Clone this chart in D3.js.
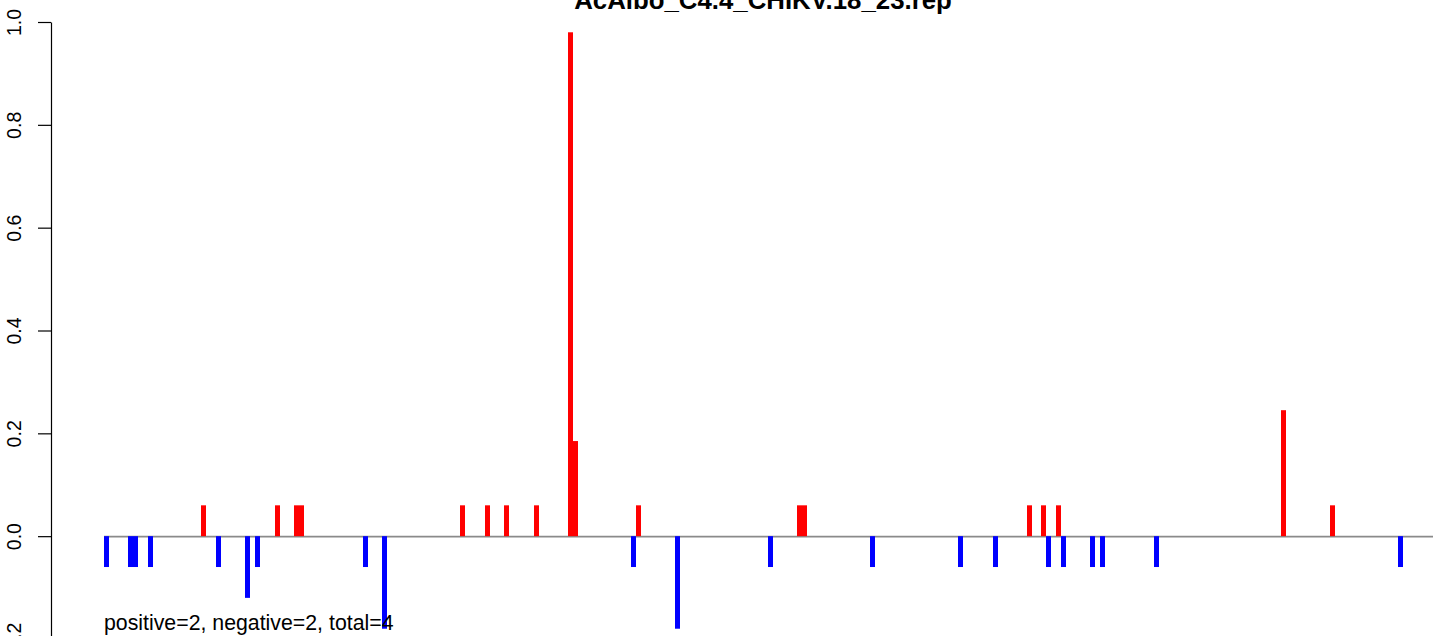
<!DOCTYPE html>
<html>
<head>
<meta charset="utf-8">
<script src="https://cdn.jsdelivr.net/npm/d3@7"></script>
<style>
  html, body { margin: 0; padding: 0; background: #fff; }
  svg { display: block; font-family: "Liberation Sans", Arial, Helvetica, sans-serif; }
</style>
</head>
<body>
<div id="chart"></div>
<script>
// ---- data ----
const chartTitle = "AcAlbo_C4.4_CHIKV.18_23.rep";
const summaryText = "positive=2, negative=2, total=4";

const positivePositions = [19.4, 34.2, 38, 39, 71.2, 76.2, 80, 86, 92.8, 93.8, 106.4, 138.6, 139.6, 184.6, 187.4, 190.4, 235.4, 245.2];
const positiveValues    = [0.06, 0.06, 0.06, 0.06, 0.06, 0.06, 0.06, 0.06, 0.98, 0.185, 0.06, 0.06, 0.06, 0.06, 0.06, 0.06, 0.245, 0.06];

const negativePositions = [0, 4.8, 5.8, 8.8, 22.4, 28.2, 30.2, 51.8, 55.6, 105.4, 114.2, 132.8, 153.2, 170.8, 177.8, 188.4, 191.4, 197.2, 199.2, 210, 258.8];
const negativeValues    = [-0.06, -0.06, -0.06, -0.06, -0.06, -0.12, -0.06, -0.06, -0.18, -0.06, -0.18, -0.06, -0.06, -0.06, -0.06, -0.06, -0.06, -0.06, -0.06, -0.06, -0.06];

const yTickValues = [-0.2, 0.0, 0.2, 0.4, 0.6, 0.8, 1.0];
const yTickLabels = ["-0.2", "0.0", "0.2", "0.4", "0.6", "0.8", "1.0"];

// ---- layout ----
const W = 1433, H = 636;
const svg = d3.select("#chart").append("svg").attr("width", W).attr("height", H);

const x = d3.scaleLinear().domain([0, 266]).range([104, 1434]);
const y = d3.scaleLinear().domain([-0.2, 1.0]).range([639, 22]);
const barW = x(1) - x(0);

// baseline
svg.append("line")
  .attr("x1", x(0)).attr("x2", W)
  .attr("y1", y(0) + 0.5).attr("y2", y(0) + 0.5)
  .attr("stroke", "#8a8a8a").attr("stroke-width", 1.6);

const pos = positivePositions.map((p, i) => ({p, v: positiveValues[i]}));
const neg = negativePositions.map((p, i) => ({p, v: negativeValues[i]}));

svg.append("g").selectAll("rect").data(pos).join("rect")
  .attr("x", d => x(d.p)).attr("width", barW)
  .attr("y", d => y(d.v)).attr("height", d => y(0) - y(d.v))
  .attr("fill", "#ff0000");

svg.append("g").selectAll("rect").data(neg).join("rect")
  .attr("x", d => x(d.p)).attr("width", barW)
  .attr("y", d => y(0)).attr("height", d => y(d.v) - y(0))
  .attr("fill", "#0000ff");

// y axis
const yAxis = d3.axisLeft(y)
  .tickValues(yTickValues)
  .tickFormat((d, i) => yTickLabels[i])
  .tickSize(13).tickSizeOuter(0);

const ag = svg.append("g").attr("transform", "translate(51,0)").call(yAxis);
ag.select(".domain").attr("stroke", "#000").attr("stroke-width", 1.2);
ag.selectAll(".tick line").attr("stroke", "#000").attr("stroke-width", 1.2);
ag.selectAll(".tick text")
  .attr("x", null).attr("dy", null)
  .attr("transform", "translate(-30,0) rotate(-90)")
  .attr("text-anchor", "middle")
  .attr("fill", "#000")
  .style("font-size", "19.5px")
  .style("font-family", "'Liberation Sans', Arial, sans-serif");

// title
svg.append("text")
  .attr("x", 763).attr("y", 9)
  .attr("text-anchor", "middle")
  .style("font-weight", "bold")
  .style("font-size", "25.8px")
  .text(chartTitle);

// summary text
svg.append("text")
  .attr("x", 104).attr("y", 630)
  .style("font-size", "21.3px")
  .text(summaryText);
</script>
</body>
</html>
